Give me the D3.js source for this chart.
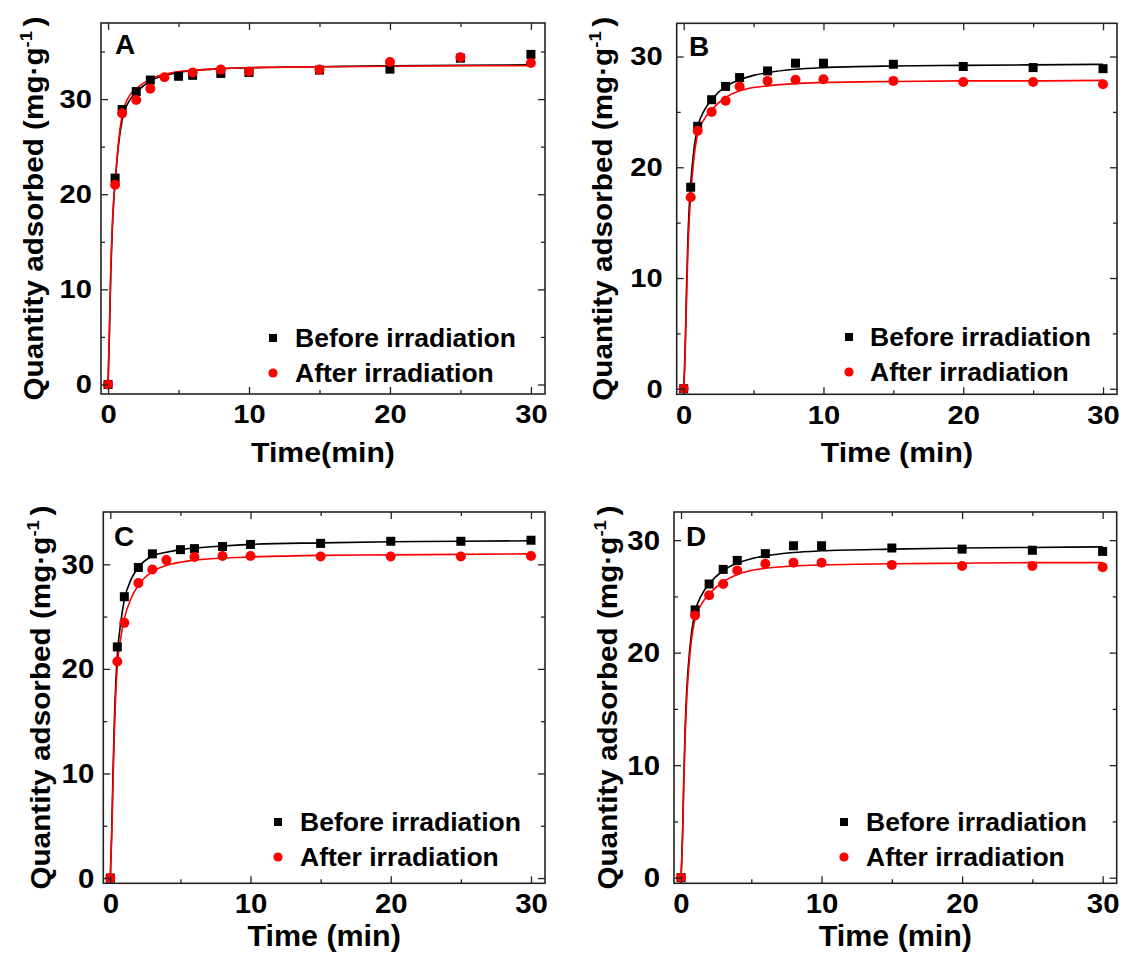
<!DOCTYPE html>
<html><head><meta charset="utf-8">
<script src="https://cdn.jsdelivr.net/npm/d3@7"></script>
<style>
html,body{margin:0;padding:0;background:#fff;}
svg text{font-family:"Liberation Sans",Arial,sans-serif;font-weight:bold;fill:#000;}
</style></head>
<body>
<svg id="chart" width="1125" height="963"></svg>
<script>
// ---------------- DATA ----------------
const legendLabels = ["Before irradiation", "After irradiation"];
const panelLetters = ["A", "B", "C", "D"];
const xTickValues = [0, 10, 20, 30];
const xMinorValues = [5, 15, 25];
const yTickValues = [0, 10, 20, 30];
const yMinorA = [5, 15, 25, 35];
const yMinorOthers = [5, 15, 25];
const xTitles = ["Time(min)", "Time (min)", "Time (min)", "Time (min)"];
const yTitleMain = "Quantity adsorbed (mg\u00B7g";
const yTitleSup = "-1";

// Panel A
const tA_before = [0, 0.5, 1, 2, 3, 5, 6, 8, 10, 15, 20, 25, 30];
const qA_before = [0, 21.7, 28.9, 30.8, 32.0, 32.4, 32.5, 32.7, 32.8, 33.05, 33.15, 34.3, 34.7];
const tA_after = [0, 0.5, 1, 2, 3, 4, 6, 8, 10, 15, 20, 25, 30];
const qA_after = [0, 21.0, 28.5, 29.9, 31.1, 32.3, 32.8, 33.1, 32.9, 33.1, 33.9, 34.4, 33.8];
// Panel B
const tB_before = [0, 0.5, 1, 2, 3, 4, 6, 8, 10, 15, 20, 25, 30];
const qB_before = [0, 18.2, 23.7, 26.1, 27.3, 28.1, 28.7, 29.4, 29.4, 29.3, 29.1, 29.0, 28.9];
const tB_after = [0, 0.5, 1, 2, 3, 4, 6, 8, 10, 15, 20, 25, 30];
const qB_after = [0, 17.3, 23.3, 25.0, 26.0, 27.3, 27.8, 27.9, 27.95, 27.8, 27.7, 27.7, 27.5];
// Panel C
const tC_before = [0, 0.5, 1, 2, 3, 5, 6, 8, 10, 15, 20, 25, 30];
const qC_before = [0, 22.1, 26.9, 29.7, 31.0, 31.4, 31.5, 31.7, 31.9, 32.0, 32.2, 32.2, 32.3];
const tC_after = [0, 0.5, 1, 2, 3, 4, 6, 8, 10, 15, 20, 25, 30];
const qC_after = [0, 20.7, 24.4, 28.2, 29.5, 30.4, 30.7, 30.8, 30.8, 30.75, 30.75, 30.75, 30.8];
// Panel D
const tD_before = [0, 1, 2, 3, 4, 6, 8, 10, 15, 20, 25, 30];
const qD_before = [0, 23.8, 26.1, 27.4, 28.2, 28.8, 29.5, 29.5, 29.3, 29.2, 29.1, 29.0];
const tD_after = [0, 1, 2, 3, 4, 6, 8, 10, 15, 20, 25, 30];
const qD_after = [0, 23.3, 25.1, 26.1, 27.3, 27.9, 28.0, 28.0, 27.8, 27.7, 27.7, 27.6];

// Fitted curves
const fitT = [0, 0.1, 0.2, 0.3, 0.4, 0.5, 0.75, 1, 1.5, 2, 3, 4, 5, 6, 8, 10, 15, 20, 25, 30];
const fitA_before = [0, 5.5, 12.0, 16.3, 19.2, 21.2, 25.3, 27.8, 29.8, 30.7, 31.9, 32.5, 32.8, 33.0, 33.2, 33.3, 33.4, 33.5, 33.55, 33.6];
const fitA_after  = [0, 6.0, 12.5, 16.6, 19.4, 21.2, 25.6, 28.3, 30.3, 31.1, 32.1, 32.6, 32.9, 33.0, 33.2, 33.3, 33.4, 33.45, 33.5, 33.5];
const fitB_before = [0, 3.5, 9.0, 13.5, 16.5, 18.5, 21.8, 23.6, 25.2, 26.1, 27.3, 27.9, 28.3, 28.55, 28.85, 29.0, 29.15, 29.2, 29.25, 29.3];
const fitB_after  = [0, 2.8, 7.8, 12.4, 15.3, 17.4, 21.0, 23.0, 24.4, 25.2, 26.3, 26.9, 27.2, 27.35, 27.55, 27.65, 27.75, 27.8, 27.8, 27.85];
const fitC_before = [0, 4.5, 10.5, 15.5, 19.0, 21.3, 24.5, 26.6, 28.6, 29.7, 30.8, 31.15, 31.4, 31.55, 31.75, 31.9, 32.05, 32.15, 32.2, 32.25];
const fitC_after  = [0, 4.0, 9.5, 14.5, 18.0, 20.3, 23.0, 24.8, 26.8, 28.0, 29.3, 29.9, 30.2, 30.4, 30.6, 30.7, 30.85, 30.9, 30.95, 31.0];
const fitD_before = [0, 3.5, 9.0, 13.5, 16.5, 18.5, 21.8, 23.6, 25.2, 26.1, 27.3, 27.95, 28.35, 28.6, 28.9, 29.05, 29.2, 29.3, 29.35, 29.4];
const fitD_after  = [0, 3.2, 8.5, 12.8, 15.8, 17.8, 21.2, 23.0, 24.4, 25.2, 26.3, 26.95, 27.3, 27.5, 27.7, 27.8, 27.9, 27.95, 28.0, 28.0];

// ---------------- LAYOUT ----------------
const panels = [
  {letter: panelLetters[0], box: [101, 23, 545, 394], xdom: [-0.5, 31], ydom: [-1, 38], yMinor: yMinorA,
   before: [tA_before, qA_before], after: [tA_after, qA_after], fit: [fitA_before, fitA_after], xTitle: xTitles[0],
   tickFont: 26, tickSx: 1.12, xPad: 11, yPad: 9, xTitleFont: 27, xTitleSx: 1.12, xTitleY: 462, yTitleX: 43, yTitleFont: 27, yTitleSx: 1.1,
   legend: [273, 338, 295], letterPos: [115, 54]},
  {letter: panelLetters[1], box: [676.7, 23.3, 1117, 394.3], xdom: [-0.5, 31], ydom: [-0.5, 33], yMinor: yMinorOthers,
   before: [tB_before, qB_before], after: [tB_after, qB_after], fit: [fitB_before, fitB_after], xTitle: xTitles[1],
   tickFont: 26, tickSx: 1.12, xPad: 11, yPad: 14, xTitleFont: 27, xTitleSx: 1.12, xTitleY: 462, yTitleX: 612, yTitleFont: 27, yTitleSx: 1.1,
   legend: [849, 337, 870], letterPos: [689, 56]},
  {letter: panelLetters[2], box: [103.3, 512, 545, 883.3], xdom: [-0.5, 31], ydom: [-0.5, 35], yMinor: yMinorOthers,
   before: [tC_before, qC_before], after: [tC_after, qC_after], fit: [fitC_before, fitC_after], xTitle: xTitles[2],
   tickFont: 28, tickSx: 1.05, xPad: 10, yPad: 9, xTitleFont: 29, xTitleSx: 1.05, xTitleY: 946, yTitleX: 50, yTitleFont: 27, yTitleSx: 1.1,
   legend: [278, 822, 300], letterPos: [114, 546]},
  {letter: panelLetters[3], box: [674, 512, 1116.7, 883.3], xdom: [-0.5, 31], ydom: [-0.5, 32.5], yMinor: yMinorOthers,
   before: [tD_before, qD_before], after: [tD_after, qD_after], fit: [fitD_before, fitD_after], xTitle: xTitles[3],
   tickFont: 28, tickSx: 1.05, xPad: 10, yPad: 14, xTitleFont: 29, xTitleSx: 1.05, xTitleY: 946, yTitleX: 617, yTitleFont: 27, yTitleSx: 1.1,
   legend: [844, 822, 866], letterPos: [686, 546]}
];

const svg = d3.select("#chart");

function stretchTexts(sel, sx) {
  sel.each(function() {
    const t = d3.select(this);
    const X = +t.attr("x") || 0;
    t.attr("transform", `translate(${X},0) scale(${sx},1) translate(${-X},0)`);
  });
}

panels.forEach(p => {
  const [x0, y0, x1, y1] = p.box;
  const x = d3.scaleLinear().domain(p.xdom).range([x0, x1]);
  const y = d3.scaleLinear().domain(p.ydom).range([y1, y0]);
  const g = svg.append("g");

  // fitted curves
  const line = d3.line().x(d => x(d[0])).y(d => y(d[1])).curve(d3.curveMonotoneX);
  const colors = ["#000000", "#ff0000"];
  p.fit.forEach((vals, i) => {
    g.append("path").datum(fitT.map((t, k) => [t, vals[k]]))
      .attr("d", line).attr("fill", "none").attr("stroke", colors[i]).attr("stroke-width", 1.6);
  });

  // markers
  const sq = 9;
  g.append("g").selectAll("rect").data(p.before[0].map((t, k) => [t, p.before[1][k]])).join("rect")
    .attr("x", d => x(d[0]) - sq / 2).attr("y", d => y(d[1]) - sq / 2)
    .attr("width", sq).attr("height", sq).attr("fill", "#000");
  g.append("g").selectAll("circle").data(p.after[0].map((t, k) => [t, p.after[1][k]])).join("circle")
    .attr("cx", d => x(d[0])).attr("cy", d => y(d[1])).attr("r", 5).attr("fill", "#ff0000");

  // axes
  const fontPx = p.tickFont + "px";
  const bottom = g.append("g").attr("transform", `translate(0,${y1})`)
    .call(d3.axisBottom(x).tickValues(xTickValues).tickSize(-7).tickPadding(p.xPad).tickFormat(d3.format("d")));
  g.append("g").attr("transform", `translate(0,${y1})`)
    .call(d3.axisBottom(x).tickValues(xMinorValues).tickSize(-4).tickFormat(""));
  g.append("g").attr("transform", `translate(0,${y0})`)
    .call(d3.axisTop(x).tickValues(xTickValues).tickSize(-7).tickFormat(""));
  g.append("g").attr("transform", `translate(0,${y0})`)
    .call(d3.axisTop(x).tickValues(xMinorValues).tickSize(-4).tickFormat(""));
  const left = g.append("g").attr("transform", `translate(${x0},0)`)
    .call(d3.axisLeft(y).tickValues(yTickValues).tickSize(-7).tickPadding(p.yPad).tickFormat(d3.format("d")));
  g.append("g").attr("transform", `translate(${x0},0)`)
    .call(d3.axisLeft(y).tickValues(p.yMinor).tickSize(-4).tickFormat(""));
  g.append("g").attr("transform", `translate(${x1},0)`)
    .call(d3.axisRight(y).tickValues(yTickValues).tickSize(-7).tickFormat(""));
  g.append("g").attr("transform", `translate(${x1},0)`)
    .call(d3.axisRight(y).tickValues(p.yMinor).tickSize(-4).tickFormat(""));
  g.selectAll(".domain").remove();
  g.selectAll(".tick line").attr("stroke", "#222").attr("stroke-width", 1.3);
  g.selectAll(".tick text").style("font-size", fontPx).style("font-family", '"Liberation Sans", Arial, sans-serif').style("font-weight", "bold").attr("fill", "#000");
  stretchTexts(bottom.selectAll(".tick text"), p.tickSx);
  stretchTexts(left.selectAll(".tick text"), p.tickSx);

  // frame
  g.append("rect").attr("x", x0).attr("y", y0).attr("width", x1 - x0).attr("height", y1 - y0)
    .attr("fill", "none").attr("stroke", "#222").attr("stroke-width", 1.6);

  // panel letter
  g.append("text").attr("x", p.letterPos[0]).attr("y", p.letterPos[1]).style("font-size", "28px").text(p.letter);

  // legend
  const [lx, ly, tx] = p.legend;
  g.append("rect").attr("x", lx - 4).attr("y", ly - 4).attr("width", 8).attr("height", 8).attr("fill", "#000");
  g.append("circle").attr("cx", lx).attr("cy", ly + 35).attr("r", 4.6).attr("fill", "#ff0000");
  g.append("text").attr("x", tx).attr("y", ly + 9).style("font-size", "26.5px").text(legendLabels[0]);
  g.append("text").attr("x", tx).attr("y", ly + 44).style("font-size", "26.5px").text(legendLabels[1]);

  // x title
  const cx = (x0 + x1) / 2;
  g.append("text").attr("text-anchor", "middle")
    .attr("transform", `translate(${cx},${p.xTitleY}) scale(${p.xTitleSx},1)`)
    .style("font-size", p.xTitleFont + "px").text(p.xTitle);

  // y title
  const cy = (y0 + y1) / 2;
  const yt = g.append("text").attr("text-anchor", "middle")
    .attr("transform", `translate(${p.yTitleX},${cy}) rotate(-90) scale(${p.yTitleSx},1)`)
    .style("font-size", p.yTitleFont + "px");
  yt.append("tspan").text(yTitleMain);
  yt.append("tspan").attr("dy", -11).style("font-size", "17px").text(yTitleSup);
  yt.append("tspan").attr("dy", 11).attr("dx", 4).text(")");
});
</script>
</body></html>
